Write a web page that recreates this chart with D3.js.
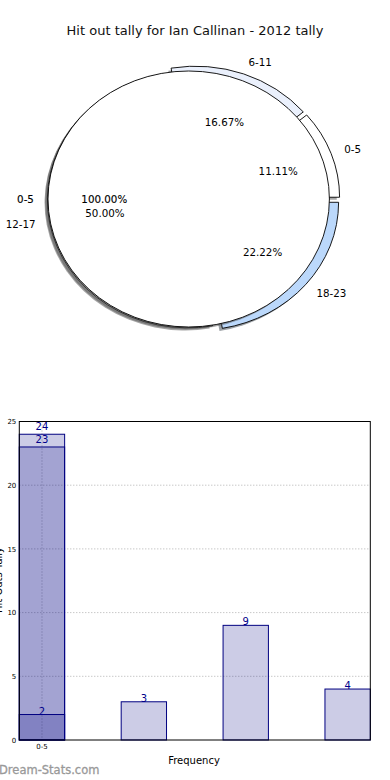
<!DOCTYPE html>
<html><head><meta charset="utf-8">
<script src="https://cdn.jsdelivr.net/npm/d3@7"></script>
<style>
html,body{margin:0;padding:0;background:#fff;}
svg{display:block;font-family:"DejaVu Sans",sans-serif;}
</style></head>
<body>
<svg id="c" width="390" height="780"></svg>
<script>
// ---------- data ----------
const chartTitle = "Hit out tally for Ian Callinan - 2012 tally";
const innerLabels = ["0-5"];
const innerValues = [1];
const outerLabels = ["0-5", "6-11", "12-17", "18-23"];
const outerValues = [2, 3, 9, 4];
const outerColors = ["#ffffff", "#eaf0fc", "#ffffff", "#bbd8fb"];
const innerColors = ["#ffffff"];

const barCategories = ["0-5", "6-11", "12-17", "18-23"];
const barTally = [24, 3, 9, 4];
const barOverlay1 = [23, null, null, null];
const barOverlay2 = [2, null, null, null];
const xTickLabels = ["0-5"];
const yTicks = [0, 5, 10, 15, 20, 25];
const xAxisTitle = "Frequency";
const yAxisTitle = "Hit Outs Tally";
const watermark = "Dream-Stats.com";

(function () {
const svg = d3.select("#c");
svg.append("text").attr("x", 195).attr("y", 35).attr("text-anchor", "middle")
  .attr("font-size", 13).attr("fill", "#111").text(chartTitle);

// ---------- pie ----------
const sx = 140.7, sy = 128;
const innerC = [188.7, 199], outerC = [193.6, 199];
const explode = 0.04;
const shadowDx = -0.02 * sx, shadowDy = 0.02 * sy;
const pie = d3.pie().sort(null).value(d => d)
  .startAngle(Math.PI / 2).endAngle(Math.PI / 2 - 2 * Math.PI);
const arc = d3.arc().innerRadius(0).outerRadius(100);
const shade = c => { const k = d3.rgb(c); return d3.rgb(k.r * 0.3, k.g * 0.3, k.b * 0.3).toString(); };

const outerArcs = pie(outerValues);
const innerArcs = pie(innerValues);
const pieG = svg.append("g");

function drawWedges(arcs, colors, center, exp) {
  const off = arcs.map(a => {
    const m = (a.startAngle + a.endAngle) / 2;
    return [center[0] + exp * sx * Math.sin(m), center[1] - exp * sy * Math.cos(m)];
  });
  arcs.forEach((a, i) => {
    pieG.append("path")
      .attr("transform", `translate(${off[i][0] + shadowDx},${off[i][1] + shadowDy}) scale(${sx / 100},${sy / 100})`)
      .attr("d", arc(a)).attr("fill", shade(colors[i])).attr("fill-opacity", 0.5);
  });
  arcs.forEach((a, i) => {
    pieG.append("path")
      .attr("transform", `translate(${off[i][0]},${off[i][1]}) scale(${sx / 100},${sy / 100})`)
      .attr("d", arc(a)).attr("fill", colors[i]).attr("stroke", "#000")
      .attr("stroke-width", 0.9).attr("vector-effect", "non-scaling-stroke")
      .attr("stroke-linejoin", "miter");
  });
}
function drawLabels(arcs, labels, center, exp, bold) {
  arcs.forEach((a, i) => {
    const m = (a.startAngle + a.endAngle) / 2;
    const s = Math.sin(m), c = -Math.cos(m);
    const pct = (a.endAngle - a.startAngle) / (-2 * Math.PI) * 100;
    const lr = 1.1 + exp, pr = 0.6 + exp;
    svg.append("text")
      .attr("x", center[0] + lr * sx * s).attr("y", center[1] + lr * sy * c)
      .attr("text-anchor", s > 1e-6 ? "start" : "end").attr("dominant-baseline", "central")
      .attr("font-size", 10.3).attr("fill", "#000")
      .attr("stroke", bold ? "#000" : "none").attr("stroke-width", bold ? 0.12 : 0)
      .text(labels[i]);
    svg.append("text")
      .attr("x", center[0] + pr * sx * s).attr("y", center[1] + pr * sy * c)
      .attr("text-anchor", "middle").attr("dominant-baseline", "central")
      .attr("font-size", 10.3).attr("fill", "#000")
      .attr("stroke", bold ? "#000" : "none").attr("stroke-width", bold ? 0.12 : 0)
      .text(pct.toFixed(2) + "%");
  });
}
drawWedges(outerArcs, outerColors, outerC, explode);
drawWedges(innerArcs, innerColors, innerC, 0);
drawLabels(innerArcs, innerLabels, innerC, 0, true);
drawLabels(outerArcs, outerLabels, outerC, explode, false);

// ---------- bar chart ----------
const pL = 19.3, pR = 370.3, pT = 421.5, pB = 740;
const x = d3.scaleBand().domain(barCategories).range([pL, pR]).paddingInner(0.555).paddingOuter(0);
const y = d3.scaleLinear().domain([0, 25]).range([pB, pT]);
const g = svg.append("g");

g.selectAll(".hg").data(yTicks.filter(t => t > 0 && t < 25)).enter().append("line")
  .attr("x1", pL).attr("x2", pR).attr("y1", d => y(d)).attr("y2", d => y(d))
  .attr("stroke", "#b0b0b0").attr("stroke-width", 1).attr("stroke-dasharray", "1,2");
g.selectAll(".vg").data(xTickLabels).enter().append("line")
  .attr("x1", d => x(d) + x.bandwidth() / 2).attr("x2", d => x(d) + x.bandwidth() / 2)
  .attr("y1", pT).attr("y2", pB)
  .attr("stroke", "#b0b0b0").attr("stroke-width", 1).attr("stroke-dasharray", "1,2");

const layers = [barTally, barOverlay1, barOverlay2];
layers.forEach((vals) => {
  vals.forEach((v, i) => {
    if (v == null) return;
    const cat = barCategories[i];
    g.append("rect").attr("x", x(cat)).attr("width", x.bandwidth())
      .attr("y", y(v)).attr("height", y(0) - y(v))
      .attr("fill", "#000080").attr("fill-opacity", 0.2)
      .attr("stroke", "#000080").attr("stroke-width", 1);
  });
});
layers.forEach((vals) => {
  vals.forEach((v, i) => {
    if (v == null) return;
    const cat = barCategories[i];
    const stacked = vals === barTally ? barOverlay1[i] != null : vals === barOverlay1;
    g.append("text").attr("x", x(cat) + x.bandwidth() / 2).attr("y", y(v) + (stacked ? -4 : 0))
      .attr("text-anchor", "middle").attr("font-size", 10).attr("fill", "#00008b").text(v);
  });
});

g.append("rect").attr("x", pL).attr("y", pT).attr("width", pR - pL).attr("height", pB - pT)
  .attr("fill", "none").attr("stroke", "#000").attr("stroke-width", 1);

const yAxis = d3.axisLeft(y).tickValues(yTicks).tickSize(0).tickPadding(3);
const ya = svg.append("g").attr("transform", `translate(${pL},0)`).call(yAxis);
ya.select(".domain").remove();
ya.selectAll("text").attr("font-size", 7).attr("fill", "#000").attr("font-family", "DejaVu Sans");
const xAxis = d3.axisBottom(x).tickValues(xTickLabels).tickSize(0).tickPadding(4);
const xa = svg.append("g").attr("transform", `translate(0,${pB})`).call(xAxis);
xa.select(".domain").remove();
xa.selectAll("text").attr("font-size", 7).attr("fill", "#000").attr("font-family", "DejaVu Sans");

svg.append("text").attr("x", 194).attr("y", 764).attr("text-anchor", "middle")
  .attr("font-size", 10).attr("fill", "#000").text(xAxisTitle);
svg.append("text").attr("transform", "translate(2,580) rotate(-90)").attr("text-anchor", "middle")
  .attr("font-size", 10).attr("fill", "#000").text(yAxisTitle);
svg.append("text").attr("x", -1).attr("y", 774).attr("font-size", 11.5)
  .attr("fill", "#999").attr("stroke", "#999").attr("stroke-width", 0.3).text(watermark);
})();
</script>
</body></html>
